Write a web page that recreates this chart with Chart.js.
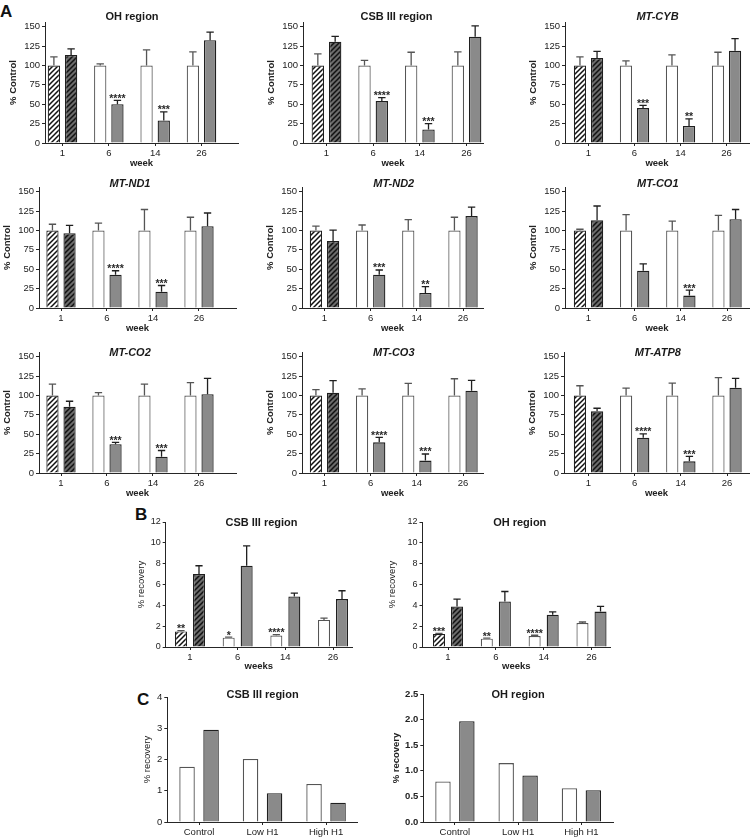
<!DOCTYPE html>
<html>
<head>
<meta charset="utf-8">
<script src="https://cdn.jsdelivr.net/npm/chart.js@4.4.1/dist/chart.umd.min.js"></script>
<style>
  body { margin: 0; background: #fff; width: 750px; height: 839px; position: relative; overflow: hidden; }
  canvas { position: absolute; }
  .lbl { position: absolute; font: bold 17px 'Liberation Sans', Arial, sans-serif; line-height: 1; color: #111; }
</style>
</head>
<body>
<div class="lbl" style="left:0px;top:3px">A</div>
<div class="lbl" style="left:135px;top:506px">B</div>
<div class="lbl" style="left:137px;top:691px">C</div>
<script>
// ---- data ----
const weekLabels = ['1', '6', '14', '26'];
const treatLabels = ['Control', 'Low H1', 'High H1'];

const aTitles = ['OH region', 'CSB III region', 'MT-CYB', 'MT-ND1', 'MT-ND2', 'MT-CO1', 'MT-CO2', 'MT-CO3', 'MT-ATP8'];
const aYTicks = [0, 25, 50, 75, 100, 125, 150];
const aCtrlMean = [100, 100, 100, 100];
const aCtrlErr = [
    [11, 2, 20, 17.5],
    [15, 6.5, 17, 17.5],
    [11, 6, 13.5, 17],
    [8, 9.5, 27, 17],
    [5.5, 7, 14, 17],
    [1.5, 20.5, 12, 19.5],
    [14.5, 3.5, 14.5, 16.5],
    [7.5, 8.5, 15.5, 21.5],
    [12.5, 9.5, 16, 23]
];
const aTrtMean = [
    [113.5, 50, 29, 132.5],
    [130.5, 54, 17.5, 137],
    [109.5, 45, 22, 119],
    [96.5, 43, 21, 105.5],
    [86.5, 43, 19.5, 118.5],
    [113, 48, 16, 114.5],
    [85.5, 37, 21, 101.5],
    [103.5, 39.5, 16, 106],
    [79.5, 45.5, 15, 110]
];
const aTrtErr = [
    [7.8, 5, 11, 10.5],
    [7, 4.5, 7.5, 14],
    [8.5, 3.5, 9, 15.5],
    [10, 5, 8, 17],
    [14, 6, 8, 11.5],
    [18.5, 9, 7, 12.5],
    [7, 2.5, 8, 20.5],
    [15.5, 6.5, 8.5, 13.5],
    [4, 5, 6.5, 12]
];
const aStars = [
    ['', '****', '***', ''],
    ['', '****', '***', ''],
    ['', '***', '**', ''],
    ['', '****', '***', ''],
    ['', '***', '**', ''],
    ['', '', '***', ''],
    ['', '***', '***', ''],
    ['', '****', '***', ''],
    ['', '****', '***', '']
];

const bYTicks = [0, 2, 4, 6, 8, 10, 12];
const bCsbCtrl = [1.5, 0.9, 1.1, 2.6];
const bCsbCtrlErr = [0.08, 0.05, 0.08, 0.18];
const bCsbTrt = [7.0, 7.8, 4.85, 4.6];
const bCsbTrtErr = [0.8, 1.9, 0.32, 0.8];
const bCsbStars = ['**', '*', '****', ''];
const bOhCtrl = [1.25, 0.8, 1.05, 2.3];
const bOhCtrlErr = [0.05, 0.05, 0.08, 0.1];
const bOhTrt = [3.9, 4.38, 3.1, 3.4];
const bOhTrtErr = [0.7, 0.95, 0.27, 0.5];
const bOhStars = ['***', '**', '****', ''];

const cCsbYTicks = [0, 1, 2, 3, 4];
const cCsbCtrl = [1.77, 2.02, 1.22];
const cCsbTrt = [2.95, 0.92, 0.62];
const cOhYTicks = [0, 0.5, 1.0, 1.5, 2.0, 2.5];
const cOhCtrl = [0.79, 1.15, 0.66];
const cOhTrt = [1.97, 0.91, 0.62];

// ---- look ----
const FONT = "'Liberation Sans', Arial, Helvetica, sans-serif";
const AX = '#262626';
const GRAY = '#8a8a8a';
const WHITE_EDGE = '#555';
const DARK_EDGE = '#1f1f1f';

Chart.defaults.font.family = FONT;
Chart.defaults.color = '#222';
Chart.defaults.animation = false;

function hatch(bg, line) {
    const n = 5;
    const c = document.createElement('canvas');
    c.width = n; c.height = n;
    const g = c.getContext('2d');
    g.fillStyle = bg;
    g.fillRect(0, 0, n, n);
    g.strokeStyle = line;
    g.lineWidth = 1.5;
    g.beginPath();
    g.moveTo(0, n); g.lineTo(n, 0);
    g.moveTo(-1, 1); g.lineTo(1, -1);
    g.moveTo(n - 1, n + 1); g.lineTo(n + 1, n - 1);
    g.stroke();
    return g.createPattern(c, 'repeat');
}
const hatchWhite = hatch('#fff', '#111');
const hatchDark = hatch('#6a6a6a', '#111');

// error bars (upper only) + significance stars
const errorBars = {
    id: 'errorBars',
    afterDatasetsDraw(chart) {
        const ctx = chart.ctx;
        const ys = chart.scales.y;
        chart.data.datasets.forEach((ds, i) => {
            const meta = chart.getDatasetMeta(i);
            meta.data.forEach((bar, j) => {
                const v = meta.controller.getParsed(j).y;
                let top = bar.y;
                if (ds.errors) {
                    top = ys.getPixelForValue(v + ds.errors[j]);
                    const cap = bar.width * 0.3;
                    ctx.save();
                    ctx.strokeStyle = ds.errColor;
                    ctx.lineWidth = 1.3;
                    ctx.beginPath();
                    ctx.moveTo(bar.x, bar.y);
                    ctx.lineTo(bar.x, top);
                    ctx.moveTo(bar.x - cap, top);
                    ctx.lineTo(bar.x + cap, top);
                    ctx.stroke();
                    ctx.restore();
                }
                if (ds.stars && ds.stars[j]) {
                    ctx.save();
                    ctx.font = 'bold 10.5px ' + FONT;
                    ctx.fillStyle = '#2a2a2a';
                    ctx.textAlign = 'center';
                    ctx.textBaseline = 'alphabetic';
                    ctx.fillText(ds.stars[j], bar.x, top + 1.5);
                    ctx.restore();
                }
            });
        });
    }
};

const panelTitle = {
    id: 'panelTitle',
    afterDraw(chart, args, o) {
        if (!o.text) return;
        const ctx = chart.ctx;
        const xs = chart.scales.x;
        const n = xs.ticks.length;
        const cx = (xs.getPixelForTick(0) + xs.getPixelForTick(n - 1)) / 2;
        ctx.save();
        ctx.font = (o.italic ? 'italic ' : '') + 'bold 11px ' + FONT;
        ctx.fillStyle = '#1a1a1a';
        ctx.textAlign = 'center';
        ctx.textBaseline = 'middle';
        ctx.fillText(o.text, cx, chart.chartArea.top + o.dy);
        ctx.restore();
    }
};

// put a canvas so that the plot area lands on L..R / T..B
function place(g) {
    const left = Math.floor(g.L - g.wy);
    const top = Math.floor(g.T - g.pt);
    const cv = document.createElement('canvas');
    cv.width = Math.ceil(g.R + g.pr - left);
    cv.height = Math.ceil(g.B + g.hx - top);
    cv.style.left = left + 'px';
    cv.style.top = top + 'px';
    document.body.appendChild(cv);
    return {
        cv,
        wy: g.L - left,
        pad: { left: 0, top: g.T - top, right: left + cv.width - g.R, bottom: 0 },
        hx: top + cv.height - g.B
    };
}

function yAxis(max, ticks, fmt, tickFont, title, titleFont, wy) {
    return {
        type: 'linear', min: 0, max: max,
        afterBuildTicks: s => { s.ticks = ticks.map(v => ({ value: v })); },
        afterFit: s => { s.width = wy; },
        ticks: { font: tickFont, color: '#222', padding: 2, callback: fmt },
        grid: { drawOnChartArea: false, drawTicks: true, tickLength: 3, color: AX },
        border: { display: true, color: AX, width: 1 },
        title: { display: true, text: title, font: titleFont, color: '#222', padding: { top: 0, bottom: 0 } }
    };
}

function weekAxis(g, hx, title) {
    const sp = (g.c4 - g.c1) / 3;
    return {
        type: 'linear', offset: false,
        min: 1 - (g.c1 - g.L) / sp,
        max: 4 + (g.R - g.c4) / sp,
        afterBuildTicks: s => { s.ticks = weekLabels.map((_, i) => ({ value: i + 1 })); },
        afterFit: s => { s.height = hx; },
        ticks: { font: { size: 9.5 }, color: '#222', padding: 2, maxRotation: 0, autoSkip: false,
                 callback: v => weekLabels[v - 1] },
        grid: { offset: false, drawOnChartArea: false, drawTicks: true, tickLength: 3, color: AX },
        border: { display: true, color: AX, width: 1 },
        title: { display: true, text: title, font: { size: 9.5, weight: 'bold' }, color: '#222', padding: { top: 0, bottom: 0 } }
    };
}

function weekSets(ctrl, ctrlErr, ctrlStars, trt, trtErr, trtStars, catPct, barPct) {
    const pts = arr => arr.map((v, i) => ({ x: i + 1, y: v }));
    return [
        {
            data: pts(ctrl), errors: ctrlErr, stars: ctrlStars, errColor: WHITE_EDGE,
            backgroundColor: ctrl.map((_, i) => i === 0 ? hatchWhite : '#fff'),
            borderColor: ctrl.map((_, i) => i === 0 ? DARK_EDGE : WHITE_EDGE),
            borderWidth: 1.2, categoryPercentage: catPct, barPercentage: barPct
        },
        {
            data: pts(trt), errors: trtErr, stars: trtStars, errColor: DARK_EDGE,
            backgroundColor: trt.map((_, i) => i === 0 ? hatchDark : GRAY),
            borderColor: DARK_EDGE,
            borderWidth: 1.3, categoryPercentage: catPct, barPercentage: barPct
        }
    ];
}

function draw(canvas, datasets, scales, pad, title) {
    return new Chart(canvas, {
        type: 'bar',
        data: { labels: scales.x.type === 'category' ? treatLabels : undefined, datasets },
        options: {
            responsive: false,
            maintainAspectRatio: false,
            layout: { padding: pad },
            plugins: { legend: { display: false }, tooltip: { enabled: false }, panelTitle: title },
            scales
        },
        plugins: [errorBars, panelTitle]
    });
}

// ---- panel A: 3 x 3 ----
const aRows = [{ T: 22, B: 143, dy: -5 }, { T: 187, B: 308, dy: -3 }, { T: 352, B: 473, dy: 0.5 }];
const aCols = [
    [{ L: 45, R: 238, c1: 62.5, c4: 201.5 }, { L: 303, R: 483, c1: 326.5, c4: 466.5 }, { L: 565, R: 749, c1: 588.5, c4: 726.5 }],
    [{ L: 39, R: 236, c1: 61, c4: 199 }, { L: 302, R: 483, c1: 324.5, c4: 463 }, { L: 565, R: 749, c1: 588.5, c4: 727 }],
    [{ L: 39, R: 236, c1: 61, c4: 199 }, { L: 302, R: 483, c1: 324.5, c4: 463 }, { L: 564, R: 749, c1: 588.5, c4: 727 }]
];

aTitles.forEach((t, i) => {
    const row = aRows[Math.floor(i / 3)];
    const col = aCols[Math.floor(i / 3)][i % 3];
    const g = Object.assign({}, col, { T: row.T, B: row.B, wy: 37, pt: 16, pr: col.R >= 749 ? 1 : 4, hx: 26 });
    const p = place(g);
    const sets = weekSets(aCtrlMean, aCtrlErr[i], null, aTrtMean[i], aTrtErr[i], aStars[i], 0.743, 0.715);
    draw(p.cv, sets, {
        x: weekAxis(g, p.hx, 'week'),
        y: yAxis(156, aYTicks, v => v, { size: 9.5 }, '% Control', { size: 9.5, weight: 'bold' }, p.wy)
    }, p.pad, { text: t, italic: t.startsWith('MT-'), dy: row.dy });
});

// ---- panel B ----
[
    { t: 'CSB III region', g: { L: 165.7, R: 352, c1: 190, c4: 333, wy: 29.5 },
      ctrl: bCsbCtrl, ce: bCsbCtrlErr, trt: bCsbTrt, te: bCsbTrtErr, st: bCsbStars },
    { t: 'OH region', g: { L: 422.5, R: 610, c1: 448, c4: 591.5, wy: 35 },
      ctrl: bOhCtrl, ce: bOhCtrlErr, trt: bOhTrt, te: bOhTrtErr, st: bOhStars }
].forEach(b => {
    const g = Object.assign({}, b.g, { T: 522, B: 647, pt: 8, pr: 4, hx: 25 });
    const p = place(g);
    const sets = weekSets(b.ctrl, b.ce, b.st, b.trt, b.te, null, 0.755, 0.667);
    draw(p.cv, sets, {
        x: weekAxis(g, p.hx, 'weeks'),
        y: yAxis(12, bYTicks, v => v, { size: 9 }, '% recovery', { size: 9.5 }, p.wy)
    }, p.pad, { text: b.t, italic: false, dy: 0.5 });
});

// ---- panel C ----
[
    { t: 'CSB III region', g: { L: 167.3, R: 357.8, T: 697, B: 822, wy: 24.7 }, max: 4, ticks: cCsbYTicks,
      fmt: v => v, bold: false, ctrl: cCsbCtrl, trt: cCsbTrt, dy: -2 },
    { t: 'OH region', g: { L: 423.3, R: 613, T: 694, B: 822, wy: 32 }, max: 2.5, ticks: cOhYTicks,
      fmt: v => v.toFixed(1), bold: true, ctrl: cOhCtrl, trt: cOhTrt, dy: 1 }
].forEach(c => {
    const g = Object.assign({}, c.g, { pt: 10, pr: 3, hx: 16 });
    const p = place(g);
    const sets = [
        { data: c.ctrl, backgroundColor: '#fff', borderColor: WHITE_EDGE, borderWidth: 1.3,
          categoryPercentage: 0.756, barPercentage: 0.646 },
        { data: c.trt, backgroundColor: GRAY, borderColor: DARK_EDGE, borderWidth: 1.3,
          categoryPercentage: 0.756, barPercentage: 0.646 }
    ];
    const w = c.bold ? 'bold' : 'normal';
    draw(p.cv, sets, {
        x: {
            type: 'category', offset: true,
            afterFit: s => { s.height = p.hx; },
            ticks: { font: { size: 9.5 }, color: '#222', padding: 2, maxRotation: 0 },
            grid: { offset: false, drawOnChartArea: false, drawTicks: true, tickLength: 3, color: AX },
            border: { display: true, color: AX, width: 1 }
        },
        y: yAxis(c.max, c.ticks, c.fmt, { size: 9.5, weight: w }, '% recovery', { size: 9.5, weight: w }, p.wy)
    }, p.pad, { text: c.t, italic: false, dy: c.dy });
});
</script>
</body>
</html>
